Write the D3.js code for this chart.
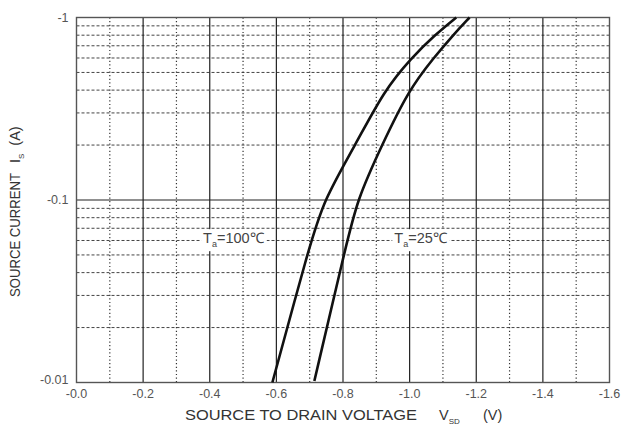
<!DOCTYPE html>
<html><head>
<meta charset="utf-8">
<script src="https://d3js.org/d3.v7.min.js"></script>
<style>
  body { margin: 0; background: #fff; }
  text { font-family: "Liberation Sans", Arial, sans-serif; }
  line.minorx { stroke: #333; stroke-width: 1.2px; stroke-dasharray: 1.2 2.4; }
  line.minory { stroke: #444; stroke-width: 1px; stroke-dasharray: 3 2; }
  line.major { stroke: #222; stroke-width: 1.2px; }
</style>
</head>
<body>
<svg id="chart" width="622" height="426"></svg>
<script>

// Data (V_SD magnitude in volts, I_S magnitude in amps)
const v100 = [0.588, 0.697, 0.742, 0.837, 0.924, 1.005, 1.075, 1.140];
const i100 = [0.01, 0.054, 0.10, 0.20, 0.40, 0.60, 0.80, 1.0];
const v25 = [0.714, 0.807, 0.842, 0.917, 0.997, 1.072, 1.13, 1.18];
const i25 = [0.0102, 0.054, 0.10, 0.20, 0.40, 0.60, 0.80, 1.0];

const xMajor = [0, 0.2, 0.4, 0.6, 0.8, 1.0, 1.2, 1.4, 1.6];
const xMinor = [0.1, 0.3, 0.5, 0.7, 0.9, 1.1, 1.3, 1.5];
const yMajor = [0.01, 0.1, 1];
const yTickLabels = ["-0.01", "-0.1", "-1"];
const xTickLabels = ["-0.0", "-0.2", "-0.4", "-0.6", "-0.8", "-1.0", "-1.2", "-1.4", "-1.6"];

const svg = d3.select("#chart");
const pLeft = 76.5, pRight = 609.5, pTop = 17.5, pBottom = 382.5;

const x = d3.scaleLinear().domain([0, 1.6]).range([pLeft, pRight]);
const y = d3.scaleLog().domain([0.01, 1]).range([pBottom, pTop]);

// minor horizontal grid (2..9 in each decade)
let yMinor = [];
[0.01, 0.1].forEach(d => { for (let k = 2; k <= 9; k++) yMinor.push(d * k); });

const grid = svg.append("g");
grid.selectAll("line.minory").data(yMinor).join("line")
  .attr("class", "minory")
  .attr("x1", pLeft).attr("x2", pRight)
  .attr("y1", d => y(d)).attr("y2", d => y(d));

grid.selectAll("line.minorx").data(xMinor).join("line")
  .attr("class", "minorx")
  .attr("x1", d => x(d)).attr("x2", d => x(d))
  .attr("y1", pTop).attr("y2", pBottom);

grid.selectAll("line.majx").data(xMajor.slice(1, -1)).join("line")
  .attr("class", "major majx")
  .attr("x1", d => x(d)).attr("x2", d => x(d))
  .attr("y1", pTop).attr("y2", pBottom);

grid.selectAll("line.majy").data([0.1]).join("line")
  .attr("class", "major majy")
  .attr("x1", pLeft).attr("x2", pRight)
  .attr("y1", d => y(d)).attr("y2", d => y(d));

// frame
svg.append("rect").attr("x", pLeft).attr("y", pTop)
  .attr("width", pRight - pLeft).attr("height", pBottom - pTop)
  .attr("fill", "none").attr("stroke", "#555").attr("stroke-width", 1.4);

// temperature labels with white backing
function tempLabel(xv, yv, temp) {
  const g = svg.append("g");
  const t = g.append("text").attr("x", x(xv)).attr("y", y(yv))
    .attr("fill", "#444").attr("font-size", 14.5);
  t.append("tspan").text("T");
  t.append("tspan").attr("font-size", 9).attr("dy", 4).text("a");
  t.append("tspan").attr("dy", -4).text("=" + temp + "\u2103");
  const bb = t.node().getBBox();
  g.insert("rect", "text").attr("x", bb.x - 2).attr("y", bb.y - 1)
    .attr("width", bb.width + 4).attr("height", bb.height + 3).attr("fill", "#fff");
}
tempLabel(0.38, 0.058, "100");
tempLabel(0.954, 0.058, "25");

// curves
const line = d3.line().x(d => x(d[0])).y(d => y(d[1])).curve(d3.curveBasis);
[[v100, i100], [v25, i25]].forEach(([vs, is]) => {
  svg.append("path").datum(vs.map((v, i) => [v, is[i]]))
    .attr("d", line).attr("fill", "none")
    .attr("stroke", "#111").attr("stroke-width", 2.6);
});

// tick labels
svg.selectAll("text.xt").data(xMajor).join("text")
  .attr("class", "xt")
  .attr("x", d => x(d)).attr("y", pBottom + 15)
  .attr("text-anchor", "middle").attr("font-size", 12.5).attr("fill", "#555")
  .text((d, i) => xTickLabels[i]);

svg.selectAll("text.yt").data(yMajor).join("text")
  .attr("class", "yt")
  .attr("x", pLeft - 8).attr("y", (d, i) => y(d) + (i === 0 ? 1 : 4))
  .attr("text-anchor", "end").attr("font-size", 12.5).attr("fill", "#555")
  .text((d, i) => yTickLabels[i]);

// axis titles
const xt = svg.append("text").attr("x", 185).attr("y", 420)
  .attr("font-size", 14.5).attr("fill", "#333");
xt.append("tspan").attr("textLength", 232).attr("lengthAdjust", "spacingAndGlyphs")
  .text("SOURCE TO DRAIN VOLTAGE");
xt.append("tspan").attr("x", 439).text("V");
xt.append("tspan").attr("font-size", 8).attr("dy", 4).text("SD");
xt.append("tspan").attr("dy", -4).attr("x", 483).text("(V)");

const yt = svg.append("text")
  .attr("transform", "translate(20," + 297 + ") rotate(-90)")
  .attr("font-size", 14.5).attr("fill", "#333");
yt.append("tspan").attr("textLength", 124).attr("lengthAdjust", "spacingAndGlyphs")
  .text("SOURCE CURRENT");
yt.append("tspan").attr("dx", 10).text("I");
yt.append("tspan").attr("font-size", 8).attr("dy", 4).text("S");
yt.append("tspan").attr("dy", -4).attr("dx", 8).text("(A)");

</script>
</body>
</html>
